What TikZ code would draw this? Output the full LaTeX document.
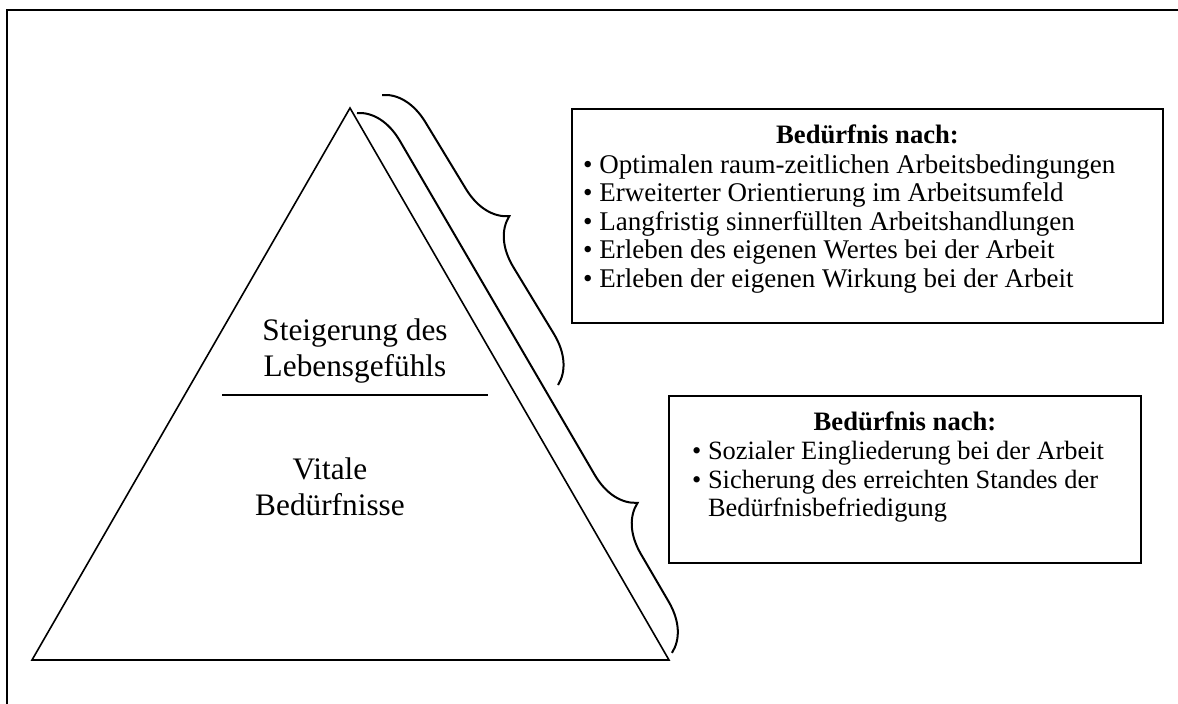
\documentclass[tikz,border=0pt]{standalone}
\usepackage{fontspec}
\setmainfont{Liberation Serif}
\usetikzlibrary{decorations.pathreplacing}
\begin{document}
\begin{tikzpicture}[x=1pt,y=-1pt,
  frame/.style={line width=2pt},
  outline/.style={line width=1.6pt},
  infobox/.style={draw, line width=2pt, rectangle, inner sep=0pt},
  curly/.style={decorate, line width=2pt,
    decoration={brace, amplitude=46pt}},
  boxtext/.style={font=\fontsize{27}{28.6}\selectfont, inner sep=0pt, anchor=base west},
  boxtextB/.style={font=\fontsize{26.4}{28.6}\selectfont, inner sep=0pt, anchor=base west},
  boxtitle/.style={font=\fontsize{26.6}{28.6}\selectfont\bfseries, inner sep=0pt, anchor=base},
  tritext/.style={font=\fontsize{31.3}{36}\selectfont, inner sep=0pt, anchor=base}]
\useasboundingbox (0,0) rectangle (1178,704);

% outer frame (top and left edges only)
\coordinate (frameTR) at (1178,10);
\coordinate (frameTL) at (7,10);
\coordinate (frameBL) at (7,704);
\draw[frame] (frameTR) -- (frameTL) -- (frameBL);

% pyramid
\coordinate (apex) at (350,108);
\coordinate (baseL) at (32,660);
\coordinate (baseR) at (669,660);
\draw[outline, line join=miter] (apex) -- (baseL) -- (baseR) -- cycle;
\coordinate (divL) at (222,395);
\coordinate (divR) at (488,395);
\draw[outline] (divL) -- (divR);

\node[tritext] (upper1) at (355,340) {Steigerung des};
\node[tritext] (upper2) at (355,376) {Lebensgefühls};
\node[tritext] (lower1) at (330,479) {Vitale};
\node[tritext] (lower2) at (330,515) {Bedürfnisse};

% braces along the right flank
\coordinate (b1s) at (382,95);
\coordinate (b1e) at (558,385);
\draw[curly] (b1s) -- (b1e);
\coordinate (b2s) at (357,113);
\coordinate (b2e) at (672,653);
\draw[curly, decoration={brace, amplitude=46pt, aspect=0.765}] (b2s) -- (b2e);

% upper needs box
\node[infobox, minimum width=591pt, minimum height=214pt] (box1) at (867.5,216) {};
\node[boxtitle] (t1) at (867.5,143) {Bedürfnis nach:};
\node[boxtext] (a1) at (583,173) {• Optimalen raum-zeitlichen Arbeitsbedingungen};
\node[boxtext] (a2) at (583,201.5) {• Erweiterter Orientierung im Arbeitsumfeld};
\node[boxtext] (a3) at (583,230) {• Langfristig sinnerfüllten Arbeitshandlungen};
\node[boxtext] (a4) at (583,258.5) {• Erleben des eigenen Wertes bei der Arbeit};
\node[boxtext] (a5) at (583,287) {• Erleben der eigenen Wirkung bei der Arbeit};

% vital needs box
\node[infobox, minimum width=472pt, minimum height=167pt] (box2) at (905,479.5) {};
\node[boxtitle] (t2) at (905,430) {Bedürfnis nach:};
\node[boxtextB] (c1) at (692,459) {• Sozialer Eingliederung bei der Arbeit};
\node[boxtextB] (c2) at (692,488) {• Sicherung des erreichten Standes der};
\node[boxtextB] (c3) at (692,516) {\phantom{• }Bedürfnisbefriedigung};
\end{tikzpicture}
\end{document}
